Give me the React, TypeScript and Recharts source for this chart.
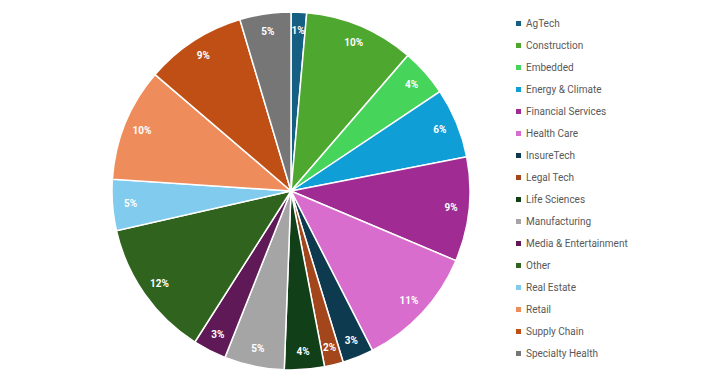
import React from 'react';
import { PieChart, Pie, Cell } from 'recharts';

const SECTORS = [
  'AgTech', 'Construction', 'Embedded', 'Energy & Climate', 'Financial Services',
  'Health Care', 'InsureTech', 'Legal Tech', 'Life Sciences', 'Manufacturing',
  'Media & Entertainment', 'Other', 'Real Estate', 'Retail', 'Supply Chain', 'Specialty Health',
];
const SHARES = [1.4, 9.9, 4.3, 6.3, 9.4, 11.1, 2.8, 1.7, 3.6, 5.4, 3.0, 12.4, 4.6, 10.2, 9.1, 4.6];
const COLORS = [
  '#156082', '#4ea72e', '#47d45a', '#0f9ed5', '#a02b93', '#d86dcd', '#0e3a4f', '#a3461b',
  '#103f18', '#a5a5a5', '#5f1957', '#2f631e', '#80cbee', '#ee8c5c', '#bf4f14', '#767676',
];

const chartData = SECTORS.map((name, i) => ({ name, value: SHARES[i], color: COLORS[i] }));

const RADIAN = Math.PI / 180;

const renderLabel = ({ cx, cy, midAngle, percent }: any) => {
  const r = 161;
  const x = cx + r * Math.cos(-midAngle * RADIAN);
  const y = cy + r * Math.sin(-midAngle * RADIAN);
  return (
    <text x={x} y={y} fill="#ffffff" fontSize={10} fontWeight={700} textAnchor="middle" dominantBaseline="central"
      fontFamily="Roboto, sans-serif">
      {`${Math.round(percent * 100)}%`}
    </text>
  );
};

export default function App() {
  return (
    <div style={{ position: 'absolute', left: 0, top: 0, width: 707, height: 381, background: '#fff' }}>
      <PieChart width={707} height={381} margin={{ top: 0, right: 0, bottom: 0, left: 0 }}>
        <Pie
          data={chartData}
          dataKey="value"
          nameKey="name"
          cx={291}
          cy={191}
          outerRadius={179}
          startAngle={90}
          endAngle={-270}
          stroke="#ffffff"
          strokeWidth={1.5}
          label={renderLabel}
          labelLine={false}
          isAnimationActive={false}
        >
          {chartData.map((entry, index) => (
            <Cell key={`cell-${index}`} fill={entry.color} />
          ))}
        </Pie>
      </PieChart>
      <div style={{ position: 'absolute', left: 516, top: 12, fontFamily: 'Roboto, sans-serif', fontSize: 10, color: '#595959' }}>
        {chartData.map((d) => (
          <div key={d.name} style={{ height: 22, display: 'flex', alignItems: 'center', whiteSpace: 'nowrap' }}>
            <span style={{ width: 5, height: 5, background: d.color, display: 'inline-block', marginRight: 5 }} />
            <span>{d.name}</span>
          </div>
        ))}
      </div>
    </div>
  );
}
